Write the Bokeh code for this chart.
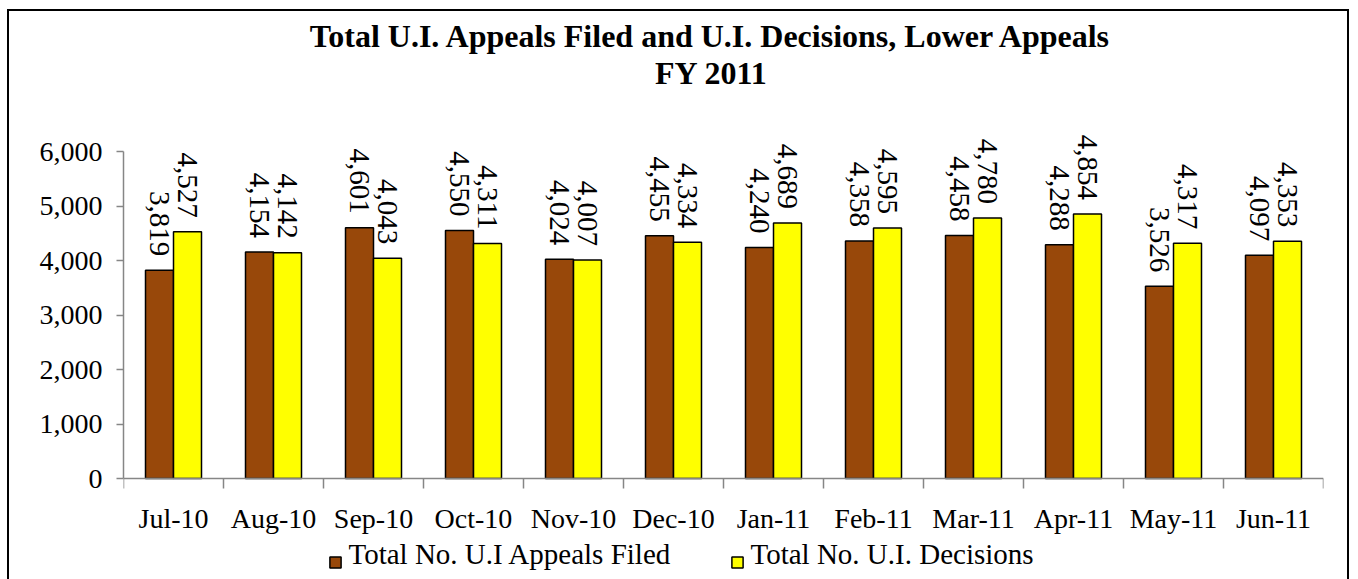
import numpy as np
from bokeh.plotting import figure
from bokeh.models import (ColumnDataSource, Legend, LegendItem, Label, FixedTicker,
                          NumeralTickFormatter, Range1d, LabelSet)
from bokeh.embed import file_html
from bokeh.resources import INLINE

months = ["Jul-10", "Aug-10", "Sep-10", "Oct-10", "Nov-10", "Dec-10",
          "Jan-11", "Feb-11", "Mar-11", "Apr-11", "May-11", "Jun-11"]
appeals_filed = [3819, 4154, 4601, 4550, 4024, 4455, 4240, 4358, 4458, 4288, 3526, 4097]
decisions = [4527, 4142, 4043, 4311, 4007, 4334, 4689, 4595, 4780, 4854, 4317, 4353]
y_ticks = [0, 1000, 2000, 3000, 4000, 5000, 6000]
series_names = ["Total No. U.I Appeals Filed", "Total No. U.I. Decisions"]
title_lines = ["Total U.I. Appeals Filed and U.I. Decisions, Lower Appeals", "FY 2011"]

FONT = "Liberation Serif"
BROWN = "#98480A"
YELLOW = "#FFFF00"
GRAY = "#868686"
TXT = "28px"

# layout: the 0..6000 axis spans 327px; the frame also holds title (above)
# and the month labels + legend (below the zero line)
AXIS_PX = 327
TOP_PX = 140
BOTTOM_PX = 101
Y_MAX = y_ticks[-1]
unit_per_px = Y_MAX / AXIS_PX
y_start = -BOTTOM_PX * unit_per_px
y_end = Y_MAX + TOP_PX * unit_per_px
PX_PER_CAT = 100  # frame_width / number of months

centers = np.arange(len(months)) + 0.5
bar_w = 0.28

src1 = ColumnDataSource(dict(x=centers - bar_w / 2, top=appeals_filed,
                             txt=[f"{v:,}" for v in appeals_filed]))
src2 = ColumnDataSource(dict(x=centers + bar_w / 2, top=decisions,
                             txt=[f"{v:,}" for v in decisions]))

p = figure(frame_width=PX_PER_CAT * len(months), frame_height=TOP_PX + AXIS_PX + BOTTOM_PX,
           output_backend="svg", toolbar_location=None,
           x_range=Range1d(0, len(months)), y_range=Range1d(y_start, y_end),
           min_border_left=114, min_border_right=24, min_border_top=0,
           min_border_bottom=0)
p.styles = {"border": "2px solid black", "margin-left": "7px", "margin-top": "9px"}
p.xgrid.visible = False
p.ygrid.visible = False
p.outline_line_color = None
p.background_fill_color = "white"
p.border_fill_color = "white"

r1 = p.vbar(x="x", top="top", bottom=0, width=bar_w, source=src1, fill_color=BROWN,
            line_color="black", line_width=1.5)
r2 = p.vbar(x="x", top="top", bottom=0, width=bar_w, source=src2, fill_color=YELLOW,
            line_color="black", line_width=1.5)

for s in (src1, src2):
    p.add_layout(LabelSet(x="x", y="top", text="txt", source=s, angle=-np.pi / 2,
                          y_offset=14, text_align="right", text_baseline="middle",
                          text_font=FONT, text_font_size="29px", text_color="black"))

title_mid = len(months) / 2 - 0.12
p.add_layout(Label(x=title_mid, y=Y_MAX + 116 * unit_per_px, text=title_lines[0],
                   text_align="center", text_baseline="middle", text_font=FONT,
                   text_font_size="32px", text_font_style="bold", text_color="black"))
p.add_layout(Label(x=title_mid, y=Y_MAX + 79 * unit_per_px, text=title_lines[1],
                   text_align="center", text_baseline="middle", text_font=FONT,
                   text_font_size="32px", text_font_style="bold", text_color="black"))

xa = p.xaxis[0]
xa.fixed_location = 0
xa.ticker = FixedTicker(ticks=list(centers), minor_ticks=list(range(len(months) + 1)))
xa.major_label_overrides = {float(c): m for c, m in zip(centers, months)}
xa.major_tick_line_color = None
xa.minor_tick_in = 0
xa.minor_tick_out = 10
xa.minor_tick_line_color = GRAY
xa.minor_tick_line_width = 1.5
xa.axis_line_color = GRAY
xa.axis_line_width = 1.5
xa.major_label_text_font = FONT
xa.major_label_text_font_size = TXT
xa.major_label_text_color = "black"
xa.major_label_standoff = 14

ya = p.yaxis[0]
ya.ticker = FixedTicker(ticks=y_ticks)
ya.bounds = (0, Y_MAX)
ya.formatter = NumeralTickFormatter(format="0,0")
ya.major_tick_in = 0
ya.major_tick_out = 7
ya.minor_tick_line_color = None
ya.major_tick_line_color = GRAY
ya.major_tick_line_width = 1.5
ya.axis_line_color = GRAY
ya.axis_line_width = 1.5
ya.major_label_text_font = FONT
ya.major_label_text_font_size = TXT
ya.major_label_text_color = "black"
ya.major_label_standoff = 14

# legend keys from the bar renderers; legend texts drawn as serif labels beside them
LEG_X1 = 205          # px from frame left to first key
LEG_X2 = 607          # px from frame left to second key
KEY_W = 14
KEY_GAP = 6
LABEL_W = 20
legend = Legend(items=[LegendItem(label=" ", renderers=[r1]),
                       LegendItem(label=" ", renderers=[r2])],
                orientation="horizontal", location=(LEG_X1, 10),
                border_line_color=None, background_fill_alpha=0,
                label_text_font=FONT, label_text_font_size="29px",
                label_text_color="black", label_width=LABEL_W,
                glyph_width=KEY_W, glyph_height=KEY_W,
                spacing=LEG_X2 - LEG_X1 - KEY_W - KEY_GAP - LABEL_W,
                padding=0, margin=0, label_standoff=KEY_GAP)
p.add_layout(legend, "center")

leg_y = -75 * unit_per_px
for key_px, name in zip((LEG_X1, LEG_X2), series_names):
    p.add_layout(Label(x=(key_px + KEY_W + KEY_GAP) / PX_PER_CAT, y=leg_y, text=name,
                       text_align="left", text_baseline="middle", text_font=FONT,
                       text_font_size="29px", text_color="black"))

open("out.html", "w").write(file_html(p, INLINE))
